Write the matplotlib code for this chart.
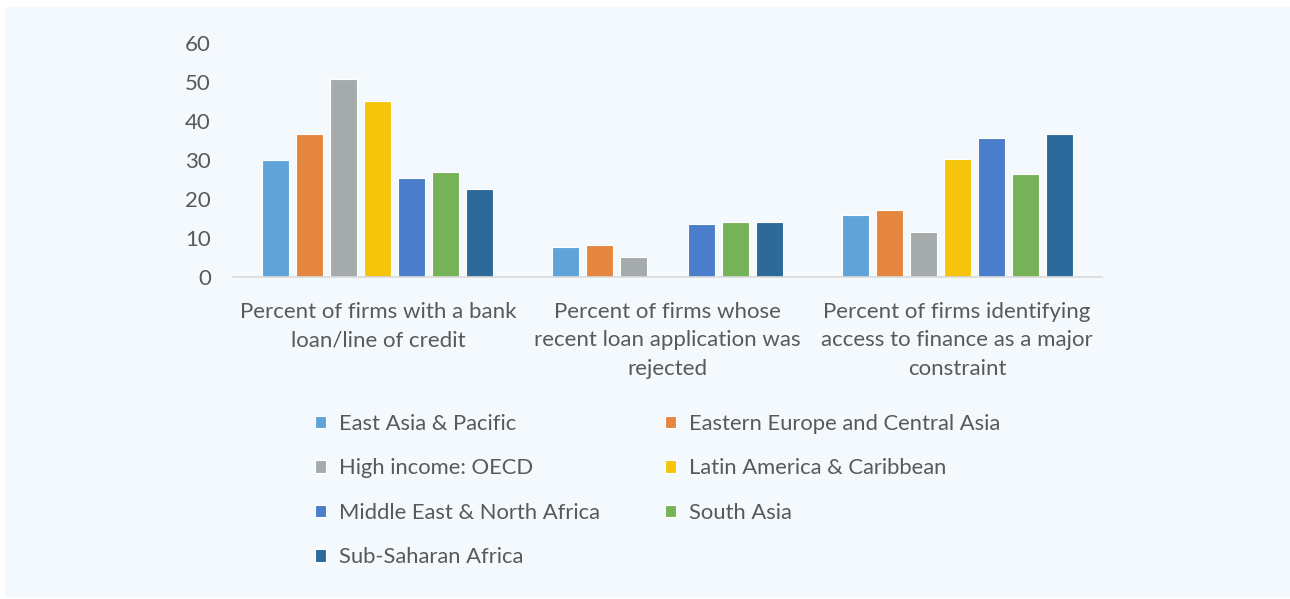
import matplotlib.pyplot as plt
import matplotlib.patches as mpatches
import numpy as np

categories = ["Percent of firms with a bank\nloan/line of credit",
              "Percent of firms whose\nrecent loan application was\nrejected",
              "Percent of firms identifying\naccess to finance as a major\nconstraint"]
regions = ["East Asia & Pacific", "Eastern Europe and Central Asia",
           "High income: OECD", "Latin America & Caribbean",
           "Middle East & North Africa", "South Asia", "Sub-Saharan Africa"]
east_asia = [30.0, 7.6, 15.9]
eastern_europe = [36.7, 8.2, 17.2]
high_income = [50.8, 5.2, 11.5]
latin_america = [45.1, 0.0, 30.2]
middle_east = [25.4, 13.5, 35.6]
south_asia = [26.9, 14.1, 26.4]
sub_saharan = [22.6, 14.1, 36.6]
series = [east_asia, eastern_europe, high_income, latin_america,
          middle_east, south_asia, sub_saharan]
colors = ['#5FA3D9', '#E5873F', '#A5AAAB', '#F5C40B', '#4B7ECA', '#76B358', '#2B6A9B']

plt.rcParams['font.family'] = ['Lato', 'DejaVu Sans']
txt = '#595959'
bg = '#F4F9FE'

fig = plt.figure(figsize=(12.9, 5.99), dpi=100)
fig.patch.set_facecolor('white')
fig.patches.append(mpatches.Rectangle((5 / 1290, 1 / 599), 1285 / 1290, 591 / 599,
                                      transform=fig.transFigure, facecolor=bg,
                                      edgecolor='none', zorder=-10))

ax = fig.add_axes([233 / 1290, 1 - 277 / 599, 869 / 1290, 234 / 599])
ax.patch.set_alpha(0)

x = np.arange(len(categories))
width = 27 / 290
step = 34 / 290
handles = []
for i, (vals, c) in enumerate(zip(series, colors)):
    b = ax.bar(x + (i - 3) * step, vals, width, color=c, edgecolor='white',
               linewidth=0.8, label=regions[i])
    handles.append(b)

ax.set_xlim(-0.5, 2.5)
ax.set_ylim(0, 60)
ax.set_yticks(range(0, 61, 10))
ax.set_xticks(x)
ax.set_xticklabels(categories, fontsize=16, color=txt, linespacing=1.53)
ax.tick_params(axis='x', length=0, pad=18)
ax.tick_params(axis='y', length=0, pad=16, labelsize=16, labelcolor=txt)
for s in ['top', 'right', 'left']:
    ax.spines[s].set_visible(False)
ax.spines['bottom'].set_color('#D9D9D9')
ax.spines['bottom'].set_linewidth(1.2)

order = [0, 2, 4, 6, 1, 3, 5]
leg = fig.legend([handles[k] for k in order], [regions[k] for k in order],
                 loc='upper left', bbox_to_anchor=(295 / 1290, 1 - 394 / 599),
                 ncol=2, frameon=False, fontsize=15.8, labelcolor=txt,
                 handlelength=0.5, handleheight=0.5, handletextpad=0.6,
                 labelspacing=1.12, columnspacing=2.95)

fig.savefig('out.png', dpi=100, facecolor='white')
